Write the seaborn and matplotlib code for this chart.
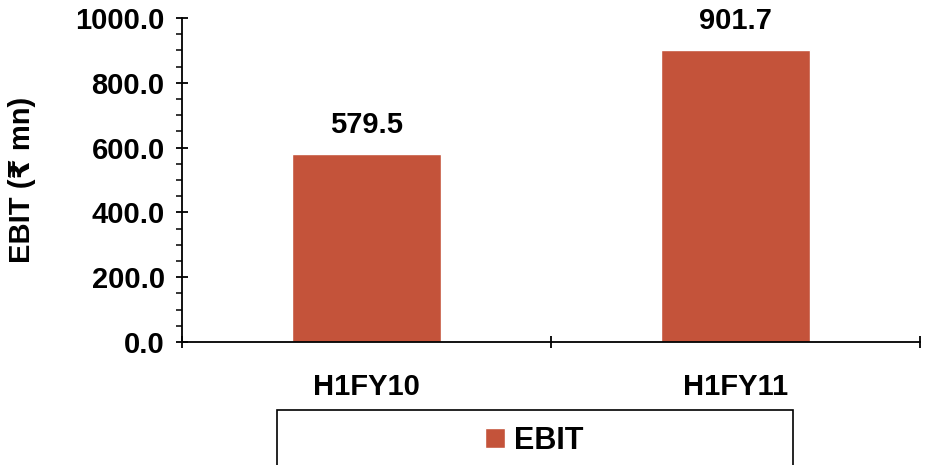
import matplotlib
matplotlib.use("Agg")
import matplotlib.pyplot as plt
from matplotlib.patches import Rectangle
from matplotlib.ticker import MultipleLocator, FixedLocator, NullFormatter
import seaborn as sns
import pandas as pd

periods = ["H1FY10", "H1FY11"]
ebit = [579.5, 901.7]
series_name = "EBIT"
y_label = "EBIT (\u20b9 mn)"

bar_color = "#C4533A"
fs = 21

sns.set_theme(style="white")
plt.rcParams["font.family"] = ["Liberation Sans", "DejaVu Sans"]
plt.rcParams["font.weight"] = "bold"
plt.rcParams["text.color"] = "black"
plt.rcParams["axes.labelcolor"] = "black"
plt.rcParams["xtick.color"] = "black"
plt.rcParams["ytick.color"] = "black"

df = pd.DataFrame({"period": periods, "value": ebit})

fig = plt.figure(figsize=(9.25, 4.65), dpi=100)
ax = fig.add_axes([0.1968, 0.2645, 0.7978, 0.6968])

sns.barplot(data=df, x="period", y="value", color=bar_color, width=0.405,
            saturation=1, label=series_name, ax=ax)

ax.set_xlim(-0.5, 1.5)
ax.set_ylim(0, 1000)

# y axis: major every 200, minor every 50
ax.yaxis.set_major_locator(MultipleLocator(200))
ax.yaxis.set_minor_locator(MultipleLocator(50))
ax.set_yticklabels([f"{v:.1f}" for v in ax.get_yticks()])
ax.tick_params(axis="y", which="major", direction="inout", length=9, width=1.3,
               color="black", labelcolor="black", labelsize=fs, pad=8, left=True)
ax.tick_params(axis="y", which="minor", direction="out", length=4, width=1.1,
               color="black", left=True)

# x axis: ticks on category boundaries, labels under category centres
ax.xaxis.set_major_locator(FixedLocator([-0.5, 0.5, 1.5]))
ax.xaxis.set_major_formatter(NullFormatter())
ax.xaxis.set_minor_locator(FixedLocator([0, 1]))
ax.set_xticklabels(periods, minor=True)
ax.tick_params(axis="x", which="major", direction="inout", length=9, width=1.3,
               color="black", bottom=True)
ax.tick_params(axis="x", which="minor", length=0, labelsize=fs, pad=22,
               labelcolor="black")
for lbl in ax.get_xticklabels(minor=True) + ax.get_yticklabels():
    lbl.set_fontweight("bold")

ax.set_xlabel("")
ax.set_ylabel(y_label, fontsize=fs, fontweight="bold", color="black")
ax.yaxis.set_label_coords(-0.198, 0.5)

for side in ["top", "right"]:
    ax.spines[side].set_visible(False)
for side in ["left", "bottom"]:
    ax.spines[side].set_color("black")
    ax.spines[side].set_linewidth(1.3)

for container in ax.containers:
    ax.bar_label(container, labels=[f"{v:.1f}" for v in ebit], padding=11,
                 fontsize=fs, fontweight="bold", color="black")

# legend box below the axis
fig.patches.append(Rectangle((0.2995, -0.05), 0.5575, 0.168,
                             transform=fig.transFigure, fill=False,
                             edgecolor="black", linewidth=1.2))
handles, labels = ax.get_legend_handles_labels()
leg = ax.legend(handles, labels, loc="center", bbox_to_anchor=(0.5775, 0.052),
                bbox_transform=fig.transFigure, frameon=False,
                prop={"size": fs + 1, "weight": "bold"}, handlelength=0.65,
                handleheight=0.65, handletextpad=0.3)
for t in leg.get_texts():
    t.set_color("black")

fig.savefig("out.png", dpi=100)
